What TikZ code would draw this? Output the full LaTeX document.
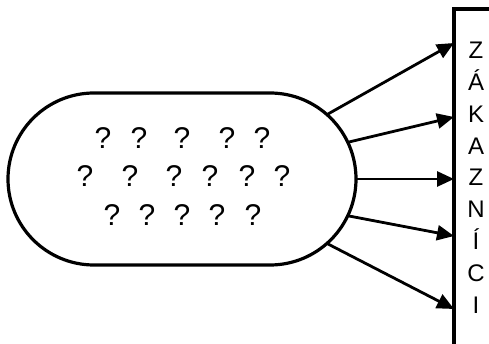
\documentclass[tikz,border=0pt]{standalone}
\usepackage{fontspec}
\setmainfont{Liberation Sans}
\usetikzlibrary{arrows.meta,shapes.misc}
\begin{document}
\begin{tikzpicture}[x=1pt,y=-1pt,
  shapeline/.style={draw=black,line width=3.2pt},
  arr/.style={draw=black,line width=2.8pt,-{Triangle[length=17pt,width=15pt]}},
  qm/.style={anchor=base,inner sep=0pt,font=\fontsize{30}{32}\selectfont},
  letter/.style={anchor=base,inner sep=0pt,font=\fontsize{24}{26}\selectfont}]
\clip (0,0) rectangle (489,344);
\fill[white] (0,0) rectangle (489,344);
% stadium
\node[shapeline,rounded rectangle,minimum width=348pt,minimum height=172pt,inner sep=0pt,outer sep=0pt] (cloud) at (182,179) {};
% rectangle
\node[shapeline,rectangle,anchor=north west,minimum width=120pt,minimum height=400pt,inner sep=0pt,outer sep=0pt] (rect) at (454,9) {};
% question marks
\foreach \x [count=\i] in {103,139,182,227,262} \node[qm] (qa\i) at (\x,149) {?};
\foreach \x [count=\i] in {85,130,174,210,247,282} \node[qm] (qb\i) at (\x,187) {?};
\foreach \x [count=\i] in {112,147,182,217,253} \node[qm] (qc\i) at (\x,226) {?};
% letters
\foreach \t [count=\i] in {Z,Á,K,A,Z,N,Í,C,I}
  \node[letter] (l\i) at (476,{59+31.75*(\i-1)}) {\t};
% arrows
\coordinate (s1) at (328,114);
\coordinate (s2) at (349,142);
\coordinate (s3) at (357,179);
\coordinate (s4) at (349,216);
\coordinate (s5) at (328,244);
\coordinate (t1) at (rect.west |- 0,43);
\coordinate (t2) at (rect.west |- 0,117);
\coordinate (t3) at (rect.west |- 0,179);
\coordinate (t4) at (rect.west |- 0,236);
\coordinate (t5) at (rect.west |- 0,309);
\foreach \i in {1,...,5} \draw[arr] (s\i) -- (t\i);
\end{tikzpicture}
\end{document}
